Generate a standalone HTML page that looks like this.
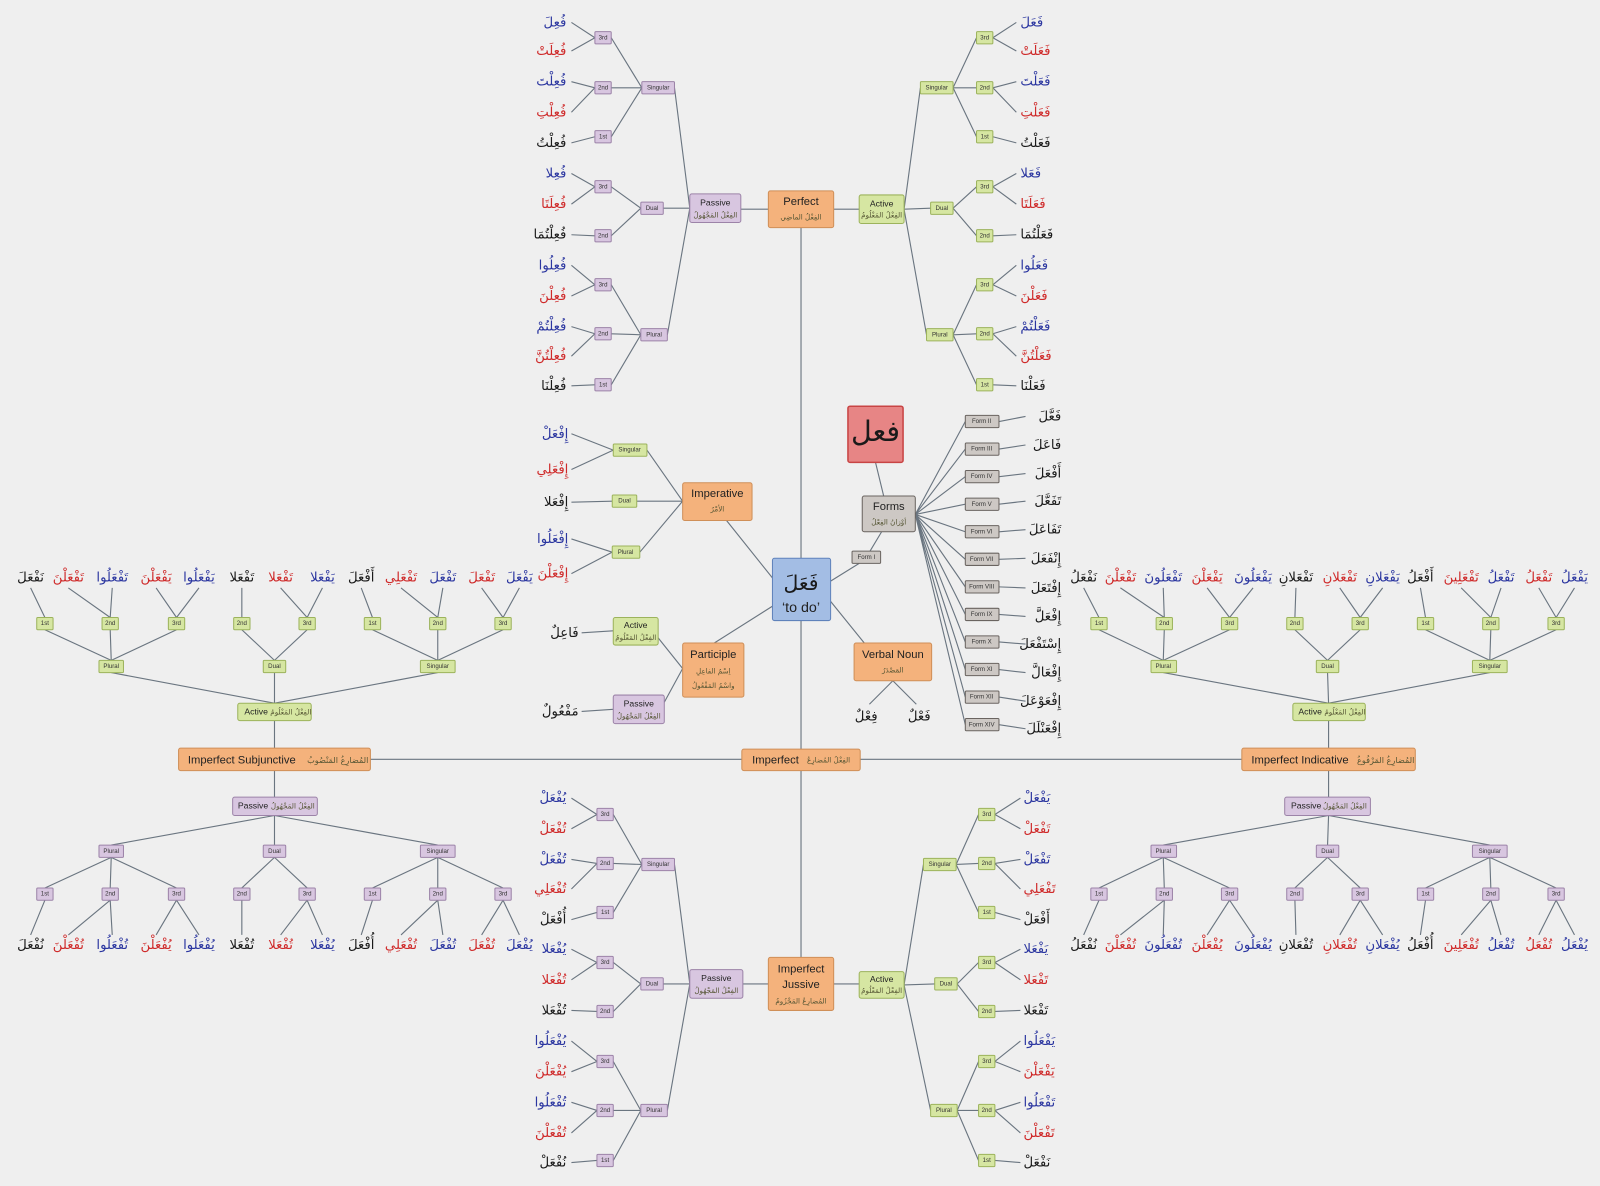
<!DOCTYPE html>
<html><head><meta charset="utf-8"><style>
html,body{margin:0;padding:0;background:#efefef;}
svg{display:block}
.l{stroke:#6a7580;stroke-width:1.1;fill:none}
.og{fill:#f4b27c;stroke:#cf8f58}
.gn{fill:#d6e6a2;stroke:#9cb35c}
.pu{fill:#d8c6e0;stroke:#9c83a8}
.gy{fill:#cdc8c4;stroke:#6a6460}
.st{font-family:"Liberation Sans",sans-serif;font-size:6px;text-anchor:middle;dominant-baseline:middle;fill:#333}
.bt{font-family:"Liberation Sans",sans-serif;font-size:11px;text-anchor:middle;dominant-baseline:middle;fill:#222}
.mt{font-family:"Liberation Sans",sans-serif;font-size:8.5px;text-anchor:middle;dominant-baseline:middle;fill:#222}
.ar{font-family:"DejaVu Sans",sans-serif;font-size:7px;text-anchor:middle;dominant-baseline:middle;fill:#553}
.a{font-family:"DejaVu Sans","Noto Sans CJK SC",sans-serif;font-size:13px;dominant-baseline:middle}
.e{text-anchor:end}.s{text-anchor:start}.m{text-anchor:middle}
.b{fill:#2b36a0}.r{fill:#cf2a2a}.k{fill:#1a1a1a}
</style></head><body>
<svg width="1600" height="1186" viewBox="0 0 1568 1162" preserveAspectRatio="none" xmlns="http://www.w3.org/2000/svg">
<rect width="1568" height="1162" fill="#efefef"/>
<!-- main lines -->
<g class="l">
<line x1="785" y1="223" x2="785" y2="938"/>
<line x1="363" y1="744" x2="727" y2="744"/><line x1="843" y1="744" x2="1217" y2="744"/>
<line x1="726" y1="205" x2="753" y2="205"/><line x1="817" y1="205" x2="842" y2="205"/>
<line x1="728" y1="964" x2="753" y2="964"/><line x1="817" y1="964" x2="842" y2="964"/>
<!-- top-left passive -->
<path d="M676 204L661 86M676 204L650 204M676 204L654 328M629 86L599 37M629 86L599 86M629 86L599 134M628 204L599 183M628 204L599 231M628 328L599 279M628 328L599 327M628 328L599 377"/>
<path d="M583 37L560 22M583 37L560 50M583 86L560 80M583 86L560 110M583 134L560 140M583 183L560 170M583 183L560 200M583 231L560 230M583 279L560 260M583 279L560 290M583 327L560 320M583 327L560 349M583 377L560 378"/>
<!-- top-right active -->
<path d="M886 205L902 86M886 205L912 204M886 205L908 328M934 86L957 37M934 86L957 86M934 86L957 134M934 204L957 183M934 204L957 231M934 328L957 279M934 328L957 327M934 328L957 377"/>
<path d="M973 37L996 22M973 37L996 50M973 86L996 80M973 86L996 110M973 134L996 140M973 183L996 170M973 183L996 200M973 231L996 230M973 279L996 260M973 279L996 290M973 327L996 320M973 327L996 349M973 377L996 378"/>
<!-- bottom-left passive -->
<path d="M676 964L661 847M676 964L650 964M676 964L654 1088M629 847L601 798M629 847L601 846M629 847L601 894M628 964L601 943M628 964L601 991M628 1088L601 1040M628 1088L601 1088M628 1088L601 1137"/>
<path d="M585 798L560 782M585 798L560 812M585 846L560 842M585 846L560 871M585 894L560 901M585 943L560 930M585 943L560 960M585 991L560 990M585 1040L560 1020M585 1040L560 1050M585 1088L560 1080M585 1088L560 1110M585 1137L560 1139"/>
<!-- bottom-right active -->
<path d="M886 965L905 847M886 965L916 964M886 965L912 1088M937 847L959 798M937 847L959 846M937 847L959 894M938 964L959 943M938 964L959 991M938 1088L959 1040M938 1088L959 1088M938 1088L959 1137"/>
<path d="M975 798L1000 782M975 798L1000 812M975 846L1000 842M975 846L1000 871M975 894L1000 901M975 943L1000 930M975 943L1000 960M975 991L1000 990M975 1040L1000 1020M975 1040L1000 1050M975 1088L1000 1080M975 1088L1000 1110M975 1137L1000 1139"/>
<!-- imperative / participle / center links -->
<path d="M669 491L634 441M669 491L624 491M669 491L627 541M601 441L560 425M601 441L560 460M600 491L560 492M600 541L560 528M600 541L560 562"/>
<path d="M712 510L760 570M700 630L760 592M669 655L645 625M669 655L651 688M601 618L570 620M601 695L570 697"/>
<path d="M847 630L813 588M875 667L852 690M875 667L898 690M813 570L842 552M852 541L864 521M858 453L866 486"/>
<path d="M897 504L946 413M897 504L946 440M897 504L946 467M897 504L946 494M897 504L946 521M897 504L946 548M897 504L946 575M897 504L946 602M897 504L946 629M897 504L946 656M897 504L946 683M897 504L946 710"/>
<path d="M979 413L1005 408M979 440L1005 436M979 467L1005 464M979 494L1005 491M979 521L1005 519M979 548L1005 547M979 575L1005 576M979 602L1005 604M979 629L1005 631M979 656L1005 659M979 683L1005 687M979 710L1005 714"/>
<!-- subjunctive -->
<path d="M269 733L269 706M269 755L269 781M269 689L109 659M269 689L269 659M269 689L429 659"/>
<path d="M109 647L44 617M109 647L108 617M109 647L173 617M269 647L237 617M269 647L301 617M429 647L365 617M429 647L429 617M429 647L493 617"/>
<path d="M44 605L30 576M108 605L67 576M108 605L110 576M173 605L153 576M173 605L195 576M237 605L237 576M301 605L275 576M301 605L316 576M365 605L354 576M429 605L393 576M429 605L434 576M493 605L472 576M493 605L509 576"/>
<path d="M269 799L109 828M269 799L269 828M269 799L429 828M109 840L44 870M109 840L108 870M109 840L173 870M269 840L237 870M269 840L301 870M429 840L365 870M429 840L429 870M429 840L493 870"/>
<path d="M44 882L30 916M108 882L67 916M108 882L110 916M173 882L153 916M173 882L195 916M237 882L237 916M301 882L275 916M301 882L316 916M365 882L354 916M429 882L393 916M429 882L434 916M493 882L472 916M493 882L509 916"/>
<!-- indicative -->
<path d="M1302 733L1302 706M1302 755L1302 781M1302 689L1140 659M1302 689L1301 659M1302 689L1460 659"/>
<path d="M1140 647L1077 617M1140 647L1141 617M1140 647L1205 617M1301 647L1269 617M1301 647L1333 617M1460 647L1397 617M1460 647L1461 617M1460 647L1525 617"/>
<path d="M1077 605L1062 576M1141 605L1098 576M1141 605L1140 576M1205 605L1183 576M1205 605L1228 576M1269 605L1270 576M1333 605L1313 576M1333 605L1355 576M1397 605L1392 576M1461 605L1432 576M1461 605L1471 576M1525 605L1508 576M1525 605L1543 576"/>
<path d="M1302 799L1140 828M1302 799L1301 828M1302 799L1460 828M1140 840L1077 870M1140 840L1141 870M1140 840L1205 870M1301 840L1269 870M1301 840L1333 870M1460 840L1397 870M1460 840L1461 870M1460 840L1525 870"/>
<path d="M1077 882L1062 916M1141 882L1098 916M1141 882L1140 916M1205 882L1183 916M1205 882L1228 916M1269 882L1270 916M1333 882L1313 916M1333 882L1355 916M1397 882L1392 916M1461 882L1432 916M1461 882L1471 916M1525 882L1508 916M1525 882L1543 916"/>
</g>

<!-- big boxes -->
<rect class="og" x="753" y="187" width="64" height="36" rx="2"/><text class="bt" x="785" y="198">Perfect</text><text class="ar" x="785" y="213">الفِعْلُ الماضِي</text>
<rect class="pu" x="676" y="190" width="50" height="28" rx="2"/><text class="mt" x="701" y="199">Passive</text><text class="ar" x="701" y="211">الفِعْلُ المَجْهُولُ</text>
<rect class="gn" x="842" y="191" width="44" height="28" rx="2"/><text class="mt" x="864" y="200">Active</text><text class="ar" x="864" y="211">الفِعْلُ المَعْلُومُ</text>

<rect class="og" x="753" y="938" width="64" height="52" rx="2"/><text class="bt" x="785" y="950">Imperfect</text><text class="bt" x="785" y="965">Jussive</text><text class="ar" x="785" y="981">المُضارِعُ المَجْزُومُ</text>
<rect class="pu" x="676" y="950" width="52" height="28" rx="2"/><text class="mt" x="702" y="959">Passive</text><text class="ar" x="702" y="971">الفِعْلُ المَجْهُولُ</text>
<rect class="gn" x="842" y="952" width="44" height="26" rx="2"/><text class="mt" x="864" y="960">Active</text><text class="ar" x="864" y="971">الفِعْلُ المَعْلُومُ</text>

<rect x="757" y="547" width="57" height="61" rx="2" fill="#a3bde4" stroke="#5f82bb"/><text class="a m k" x="785" y="572" style="font-size:20px">فَعَلَ</text><text class="bt" x="785" y="596" style="font-size:14px">‘to do’</text>
<rect x="831" y="398" width="54" height="55" rx="2" fill="#e78585" stroke="#c84444" stroke-width="1.5"/><text class="a m k" x="858" y="424" style="font-size:28px">فعل</text>
<rect class="gy" x="845" y="486" width="52" height="35" rx="2"/><text class="bt" x="871" y="497">Forms</text><text class="ar" x="871" y="512">أوْزانُ الفِعْلُ</text>
<rect class="gy" x="835" y="540" width="28" height="12" rx="1"/><text class="st" x="849" y="546">Form I</text>
<rect class="og" x="837" y="630" width="76" height="37" rx="2"/><text class="bt" x="875" y="642">Verbal Noun</text><text class="ar" x="875" y="657">المَصْدَرُ</text>
<rect class="og" x="669" y="473" width="68" height="37" rx="2"/><text class="bt" x="703" y="484">Imperative</text><text class="ar" x="703" y="499">الأمْرُ</text>
<rect class="og" x="669" y="630" width="60" height="53" rx="2"/><text class="bt" x="699" y="642">Participle</text><text class="ar" x="699" y="658">اِسْمُ الفاعِلِ</text><text class="ar" x="699" y="672">واسْمُ المَفْعُولُ</text>
<rect class="gn" x="601" y="605" width="44" height="27" rx="2"/><text class="mt" x="623" y="613">Active</text><text class="ar" x="623" y="625">الفِعْلُ المَعْلُومُ</text>
<rect class="pu" x="601" y="681" width="50" height="28" rx="2"/><text class="mt" x="626" y="690">Passive</text><text class="ar" x="626" y="702">الفِعْلُ المَجْهُولُ</text>
<rect class="gn" x="601" y="435" width="33" height="12" rx="1"/><text class="st" x="617" y="441">Singular</text>
<rect class="gn" x="600" y="485" width="24" height="12" rx="1"/><text class="st" x="612" y="491">Dual</text>
<rect class="gn" x="600" y="535" width="27" height="12" rx="1"/><text class="st" x="613" y="541">Plural</text>

<rect class="og" x="727" y="734" width="116" height="21" rx="2"/><text class="bt" x="760" y="745">Imperfect</text><text class="ar" x="812" y="745">الفِعْلُ المُضارِعُ</text>
<rect class="og" x="175" y="733" width="188" height="22" rx="2"/><text class="bt" x="237" y="745">Imperfect Subjunctive</text><text class="ar" x="331" y="745" style="font-size:8px">المُضارِعُ المَنْصُوبُ</text>
<rect class="og" x="1217" y="733" width="170" height="22" rx="2"/><text class="bt" x="1274" y="745">Imperfect Indicative</text><text class="ar" x="1358" y="745" style="font-size:8px">المُضارِعُ المَرْفُوعُ</text>
<rect class="gn" x="233" y="689" width="72" height="17" rx="2"/><text class="mt" x="251" y="698">Active</text><text class="ar" x="285" y="698">الفِعْلُ المَعْلُومُ</text>
<rect class="pu" x="228" y="781" width="83" height="18" rx="2"/><text class="mt" x="248" y="790">Passive</text><text class="ar" x="287" y="790">الفِعْلُ المَجْهُولُ</text>
<rect class="gn" x="1267" y="689" width="71" height="17" rx="2"/><text class="mt" x="1284" y="698">Active</text><text class="ar" x="1318" y="698">الفِعْلُ المَعْلُومُ</text>
<rect class="pu" x="1259" y="781" width="84" height="18" rx="2"/><text class="mt" x="1280" y="790">Passive</text><text class="ar" x="1318" y="790">الفِعْلُ المَجْهُولُ</text>

<!-- form boxes -->
<g>
<rect class="gy" x="946" y="407" width="33" height="12" rx="1"/><text class="st" x="962" y="413">Form II</text>
<rect class="gy" x="946" y="434" width="33" height="12" rx="1"/><text class="st" x="962" y="440">Form III</text>
<rect class="gy" x="946" y="461" width="33" height="12" rx="1"/><text class="st" x="962" y="467">Form IV</text>
<rect class="gy" x="946" y="488" width="33" height="12" rx="1"/><text class="st" x="962" y="494">Form V</text>
<rect class="gy" x="946" y="515" width="33" height="12" rx="1"/><text class="st" x="962" y="521">Form VI</text>
<rect class="gy" x="946" y="542" width="33" height="12" rx="1"/><text class="st" x="962" y="548">Form VII</text>
<rect class="gy" x="946" y="569" width="33" height="12" rx="1"/><text class="st" x="962" y="575">Form VIII</text>
<rect class="gy" x="946" y="596" width="33" height="12" rx="1"/><text class="st" x="962" y="602">Form IX</text>
<rect class="gy" x="946" y="623" width="33" height="12" rx="1"/><text class="st" x="962" y="629">Form X</text>
<rect class="gy" x="946" y="650" width="33" height="12" rx="1"/><text class="st" x="962" y="656">Form XI</text>
<rect class="gy" x="946" y="677" width="33" height="12" rx="1"/><text class="st" x="962" y="683">Form XII</text>
<rect class="gy" x="946" y="704" width="33" height="12" rx="1"/><text class="st" x="962" y="710">Form XIV</text>
</g>
<g class="a k e">
<text x="1040" y="408">فَعَّلَ</text><text x="1040" y="436">فَاعَلَ</text><text x="1040" y="464">أَفْعَلَ</text><text x="1040" y="491">تَفَعَّلَ</text><text x="1040" y="519">تَفَاعَلَ</text><text x="1040" y="547">إِنْفَعَلَ</text><text x="1040" y="576">إِفْتَعَلَ</text><text x="1040" y="604">إِفْعَلَّ</text><text x="1040" y="631">إِسْتَفْعَلَ</text><text x="1040" y="659">إِفْعَالَّ</text><text x="1040" y="687">إِفْعَوْعَلَ</text><text x="1040" y="714">إِفْعَنْلَلَ</text>
<text x="860" y="702">فِعْلٌ</text><text x="912" y="702">فَعْلٌ</text>
<text x="567" y="620">فَاعِلٌ</text><text x="567" y="697">مَفْعُولٌ</text>
</g>
<g class="a e">
<text class="b" x="557" y="425">إِفْعَلْ</text><text class="r" x="557" y="460">إِفْعَلِي</text><text class="k" x="557" y="492">إِفْعَلا</text><text class="b" x="557" y="528">إِفْعَلُوا</text><text class="r" x="557" y="562">إِفْعَلْنَ</text>
</g>

<!-- group & person boxes: top-left purple -->
<g>
<rect class="pu" x="629" y="80" width="32" height="12" rx="1"/><text class="st" x="645" y="86">Singular</text>
<rect class="pu" x="628" y="198" width="22" height="12" rx="1"/><text class="st" x="639" y="204">Dual</text>
<rect class="pu" x="628" y="322" width="26" height="12" rx="1"/><text class="st" x="641" y="328">Plural</text>
<rect class="pu" x="583" y="31" width="16" height="12" rx="1"/><text class="st" x="591" y="37">3rd</text>
<rect class="pu" x="583" y="80" width="16" height="12" rx="1"/><text class="st" x="591" y="86">2nd</text>
<rect class="pu" x="583" y="128" width="16" height="12" rx="1"/><text class="st" x="591" y="134">1st</text>
<rect class="pu" x="583" y="177" width="16" height="12" rx="1"/><text class="st" x="591" y="183">3rd</text>
<rect class="pu" x="583" y="225" width="16" height="12" rx="1"/><text class="st" x="591" y="231">2nd</text>
<rect class="pu" x="583" y="273" width="16" height="12" rx="1"/><text class="st" x="591" y="279">3rd</text>
<rect class="pu" x="583" y="321" width="16" height="12" rx="1"/><text class="st" x="591" y="327">2nd</text>
<rect class="pu" x="583" y="371" width="16" height="12" rx="1"/><text class="st" x="591" y="377">1st</text>
</g>
<!-- top-right green -->
<g>
<rect class="gn" x="902" y="80" width="32" height="12" rx="1"/><text class="st" x="918" y="86">Singular</text>
<rect class="gn" x="912" y="198" width="22" height="12" rx="1"/><text class="st" x="923" y="204">Dual</text>
<rect class="gn" x="908" y="322" width="26" height="12" rx="1"/><text class="st" x="921" y="328">Plural</text>
<rect class="gn" x="957" y="31" width="16" height="12" rx="1"/><text class="st" x="965" y="37">3rd</text>
<rect class="gn" x="957" y="80" width="16" height="12" rx="1"/><text class="st" x="965" y="86">2nd</text>
<rect class="gn" x="957" y="128" width="16" height="12" rx="1"/><text class="st" x="965" y="134">1st</text>
<rect class="gn" x="957" y="177" width="16" height="12" rx="1"/><text class="st" x="965" y="183">3rd</text>
<rect class="gn" x="957" y="225" width="16" height="12" rx="1"/><text class="st" x="965" y="231">2nd</text>
<rect class="gn" x="957" y="273" width="16" height="12" rx="1"/><text class="st" x="965" y="279">3rd</text>
<rect class="gn" x="957" y="321" width="16" height="12" rx="1"/><text class="st" x="965" y="327">2nd</text>
<rect class="gn" x="957" y="371" width="16" height="12" rx="1"/><text class="st" x="965" y="377">1st</text>
</g>
<!-- bottom-left purple -->
<g>
<rect class="pu" x="629" y="841" width="32" height="12" rx="1"/><text class="st" x="645" y="847">Singular</text>
<rect class="pu" x="628" y="958" width="22" height="12" rx="1"/><text class="st" x="639" y="964">Dual</text>
<rect class="pu" x="628" y="1082" width="26" height="12" rx="1"/><text class="st" x="641" y="1088">Plural</text>
<rect class="pu" x="585" y="792" width="16" height="12" rx="1"/><text class="st" x="593" y="798">3rd</text>
<rect class="pu" x="585" y="840" width="16" height="12" rx="1"/><text class="st" x="593" y="846">2nd</text>
<rect class="pu" x="585" y="888" width="16" height="12" rx="1"/><text class="st" x="593" y="894">1st</text>
<rect class="pu" x="585" y="937" width="16" height="12" rx="1"/><text class="st" x="593" y="943">3rd</text>
<rect class="pu" x="585" y="985" width="16" height="12" rx="1"/><text class="st" x="593" y="991">2nd</text>
<rect class="pu" x="585" y="1034" width="16" height="12" rx="1"/><text class="st" x="593" y="1040">3rd</text>
<rect class="pu" x="585" y="1082" width="16" height="12" rx="1"/><text class="st" x="593" y="1088">2nd</text>
<rect class="pu" x="585" y="1131" width="16" height="12" rx="1"/><text class="st" x="593" y="1137">1st</text>
</g>
<!-- bottom-right green -->
<g>
<rect class="gn" x="905" y="841" width="32" height="12" rx="1"/><text class="st" x="921" y="847">Singular</text>
<rect class="gn" x="916" y="958" width="22" height="12" rx="1"/><text class="st" x="927" y="964">Dual</text>
<rect class="gn" x="912" y="1082" width="26" height="12" rx="1"/><text class="st" x="925" y="1088">Plural</text>
<rect class="gn" x="959" y="792" width="16" height="12" rx="1"/><text class="st" x="967" y="798">3rd</text>
<rect class="gn" x="959" y="840" width="16" height="12" rx="1"/><text class="st" x="967" y="846">2nd</text>
<rect class="gn" x="959" y="888" width="16" height="12" rx="1"/><text class="st" x="967" y="894">1st</text>
<rect class="gn" x="959" y="937" width="16" height="12" rx="1"/><text class="st" x="967" y="943">3rd</text>
<rect class="gn" x="959" y="985" width="16" height="12" rx="1"/><text class="st" x="967" y="991">2nd</text>
<rect class="gn" x="959" y="1034" width="16" height="12" rx="1"/><text class="st" x="967" y="1040">3rd</text>
<rect class="gn" x="959" y="1082" width="16" height="12" rx="1"/><text class="st" x="967" y="1088">2nd</text>
<rect class="gn" x="959" y="1131" width="16" height="12" rx="1"/><text class="st" x="967" y="1137">1st</text>
</g>
<!-- subjunctive / indicative small boxes -->
<g>
<rect class="gn" x="97" y="647" width="24" height="12" rx="1"/><text class="st" x="109" y="653">Plural</text>
<rect class="gn" x="258" y="647" width="22" height="12" rx="1"/><text class="st" x="269" y="653">Dual</text>
<rect class="gn" x="412" y="647" width="34" height="12" rx="1"/><text class="st" x="429" y="653">Singular</text>
<rect class="gn" x="36" y="605" width="16" height="12" rx="1"/><text class="st" x="44" y="611">1st</text>
<rect class="gn" x="100" y="605" width="16" height="12" rx="1"/><text class="st" x="108" y="611">2nd</text>
<rect class="gn" x="165" y="605" width="16" height="12" rx="1"/><text class="st" x="173" y="611">3rd</text>
<rect class="gn" x="229" y="605" width="16" height="12" rx="1"/><text class="st" x="237" y="611">2nd</text>
<rect class="gn" x="293" y="605" width="16" height="12" rx="1"/><text class="st" x="301" y="611">3rd</text>
<rect class="gn" x="357" y="605" width="16" height="12" rx="1"/><text class="st" x="365" y="611">1st</text>
<rect class="gn" x="421" y="605" width="16" height="12" rx="1"/><text class="st" x="429" y="611">2nd</text>
<rect class="gn" x="485" y="605" width="16" height="12" rx="1"/><text class="st" x="493" y="611">3rd</text>

<rect class="pu" x="97" y="828" width="24" height="12" rx="1"/><text class="st" x="109" y="834">Plural</text>
<rect class="pu" x="258" y="828" width="22" height="12" rx="1"/><text class="st" x="269" y="834">Dual</text>
<rect class="pu" x="412" y="828" width="34" height="12" rx="1"/><text class="st" x="429" y="834">Singular</text>
<rect class="pu" x="36" y="870" width="16" height="12" rx="1"/><text class="st" x="44" y="876">1st</text>
<rect class="pu" x="100" y="870" width="16" height="12" rx="1"/><text class="st" x="108" y="876">2nd</text>
<rect class="pu" x="165" y="870" width="16" height="12" rx="1"/><text class="st" x="173" y="876">3rd</text>
<rect class="pu" x="229" y="870" width="16" height="12" rx="1"/><text class="st" x="237" y="876">2nd</text>
<rect class="pu" x="293" y="870" width="16" height="12" rx="1"/><text class="st" x="301" y="876">3rd</text>
<rect class="pu" x="357" y="870" width="16" height="12" rx="1"/><text class="st" x="365" y="876">1st</text>
<rect class="pu" x="421" y="870" width="16" height="12" rx="1"/><text class="st" x="429" y="876">2nd</text>
<rect class="pu" x="485" y="870" width="16" height="12" rx="1"/><text class="st" x="493" y="876">3rd</text>

<rect class="gn" x="1128" y="647" width="25" height="12" rx="1"/><text class="st" x="1140" y="653">Plural</text>
<rect class="gn" x="1290" y="647" width="22" height="12" rx="1"/><text class="st" x="1301" y="653">Dual</text>
<rect class="gn" x="1443" y="647" width="34" height="12" rx="1"/><text class="st" x="1460" y="653">Singular</text>
<rect class="gn" x="1069" y="605" width="16" height="12" rx="1"/><text class="st" x="1077" y="611">1st</text>
<rect class="gn" x="1133" y="605" width="16" height="12" rx="1"/><text class="st" x="1141" y="611">2nd</text>
<rect class="gn" x="1197" y="605" width="16" height="12" rx="1"/><text class="st" x="1205" y="611">3rd</text>
<rect class="gn" x="1261" y="605" width="16" height="12" rx="1"/><text class="st" x="1269" y="611">2nd</text>
<rect class="gn" x="1325" y="605" width="16" height="12" rx="1"/><text class="st" x="1333" y="611">3rd</text>
<rect class="gn" x="1389" y="605" width="16" height="12" rx="1"/><text class="st" x="1397" y="611">1st</text>
<rect class="gn" x="1453" y="605" width="16" height="12" rx="1"/><text class="st" x="1461" y="611">2nd</text>
<rect class="gn" x="1517" y="605" width="16" height="12" rx="1"/><text class="st" x="1525" y="611">3rd</text>

<rect class="pu" x="1128" y="828" width="25" height="12" rx="1"/><text class="st" x="1140" y="834">Plural</text>
<rect class="pu" x="1290" y="828" width="22" height="12" rx="1"/><text class="st" x="1301" y="834">Dual</text>
<rect class="pu" x="1443" y="828" width="34" height="12" rx="1"/><text class="st" x="1460" y="834">Singular</text>
<rect class="pu" x="1069" y="870" width="16" height="12" rx="1"/><text class="st" x="1077" y="876">1st</text>
<rect class="pu" x="1133" y="870" width="16" height="12" rx="1"/><text class="st" x="1141" y="876">2nd</text>
<rect class="pu" x="1197" y="870" width="16" height="12" rx="1"/><text class="st" x="1205" y="876">3rd</text>
<rect class="pu" x="1261" y="870" width="16" height="12" rx="1"/><text class="st" x="1269" y="876">2nd</text>
<rect class="pu" x="1325" y="870" width="16" height="12" rx="1"/><text class="st" x="1333" y="876">3rd</text>
<rect class="pu" x="1389" y="870" width="16" height="12" rx="1"/><text class="st" x="1397" y="876">1st</text>
<rect class="pu" x="1453" y="870" width="16" height="12" rx="1"/><text class="st" x="1461" y="876">2nd</text>
<rect class="pu" x="1517" y="870" width="16" height="12" rx="1"/><text class="st" x="1525" y="876">3rd</text>
</g>

<!-- words top-left -->
<g class="a e">
<text class="b" x="555" y="22">فُعِلَ</text><text class="r" x="555" y="50">فُعِلَتْ</text><text class="b" x="555" y="80">فُعِلْتَ</text><text class="r" x="555" y="110">فُعِلْتِ</text><text class="k" x="555" y="140">فُعِلْتُ</text>
<text class="b" x="555" y="170">فُعِلا</text><text class="r" x="555" y="200">فُعِلَتَا</text><text class="k" x="555" y="230">فُعِلْتُمَا</text>
<text class="b" x="555" y="260">فُعِلُوا</text><text class="r" x="555" y="290">فُعِلْنَ</text><text class="b" x="555" y="320">فُعِلْتُمْ</text><text class="r" x="555" y="349">فُعِلْتُنَّ</text><text class="k" x="555" y="378">فُعِلْنَا</text>
</g>
<g class="a s">
<text class="b" x="1000" y="22">فَعَلَ</text><text class="r" x="1000" y="50">فَعَلَتْ</text><text class="b" x="1000" y="80">فَعَلْتَ</text><text class="r" x="1000" y="110">فَعَلْتِ</text><text class="k" x="1000" y="140">فَعَلْتُ</text>
<text class="b" x="1000" y="170">فَعَلا</text><text class="r" x="1000" y="200">فَعَلَتَا</text><text class="k" x="1000" y="230">فَعَلْتُمَا</text>
<text class="b" x="1000" y="260">فَعَلُوا</text><text class="r" x="1000" y="290">فَعَلْنَ</text><text class="b" x="1000" y="320">فَعَلْتُمْ</text><text class="r" x="1000" y="349">فَعَلْتُنَّ</text><text class="k" x="1000" y="378">فَعَلْنَا</text>
</g>
<g class="a e">
<text class="b" x="555" y="782">يُفْعَلْ</text><text class="r" x="555" y="812">تُفْعَلْ</text><text class="b" x="555" y="842">تُفْعَلْ</text><text class="r" x="555" y="871">تُفْعَلِي</text><text class="k" x="555" y="901">أُفْعَلْ</text>
<text class="b" x="555" y="930">يُفْعَلا</text><text class="r" x="555" y="960">تُفْعَلا</text><text class="k" x="555" y="990">تُفْعَلا</text>
<text class="b" x="555" y="1020">يُفْعَلُوا</text><text class="r" x="555" y="1050">يُفْعَلْنَ</text><text class="b" x="555" y="1080">تُفْعَلُوا</text><text class="r" x="555" y="1110">تُفْعَلْنَ</text><text class="k" x="555" y="1139">نُفْعَلْ</text>
</g>
<g class="a s">
<text class="b" x="1003" y="782">يَفْعَلْ</text><text class="r" x="1003" y="812">تَفْعَلْ</text><text class="b" x="1003" y="842">تَفْعَلْ</text><text class="r" x="1003" y="871">تَفْعَلِي</text><text class="k" x="1003" y="901">أَفْعَلْ</text>
<text class="b" x="1003" y="930">يَفْعَلا</text><text class="r" x="1003" y="960">تَفْعَلا</text><text class="k" x="1003" y="990">تَفْعَلا</text>
<text class="b" x="1003" y="1020">يَفْعَلُوا</text><text class="r" x="1003" y="1050">يَفْعَلْنَ</text><text class="b" x="1003" y="1080">تَفْعَلُوا</text><text class="r" x="1003" y="1110">تَفْعَلْنَ</text><text class="k" x="1003" y="1139">نَفْعَلْ</text>
</g>
<!-- subjunctive words -->
<g class="a m">
<text class="k" x="30" y="566">نَفْعَلَ</text><text class="r" x="67" y="566">تَفْعَلْنَ</text><text class="b" x="110" y="566">تَفْعَلُوا</text><text class="r" x="153" y="566">يَفْعَلْنَ</text><text class="b" x="195" y="566">يَفْعَلُوا</text><text class="k" x="237" y="566">تَفْعَلا</text><text class="r" x="275" y="566">تَفْعَلا</text><text class="b" x="316" y="566">يَفْعَلا</text><text class="k" x="354" y="566">أَفْعَلَ</text><text class="r" x="393" y="566">تَفْعَلِي</text><text class="b" x="434" y="566">تَفْعَلَ</text><text class="r" x="472" y="566">تَفْعَلَ</text><text class="b" x="509" y="566">يَفْعَلَ</text>
<text class="k" x="30" y="926">نُفْعَلَ</text><text class="r" x="67" y="926">تُفْعَلْنَ</text><text class="b" x="110" y="926">تُفْعَلُوا</text><text class="r" x="153" y="926">يُفْعَلْنَ</text><text class="b" x="195" y="926">يُفْعَلُوا</text><text class="k" x="237" y="926">تُفْعَلا</text><text class="r" x="275" y="926">تُفْعَلا</text><text class="b" x="316" y="926">يُفْعَلا</text><text class="k" x="354" y="926">أُفْعَلَ</text><text class="r" x="393" y="926">تُفْعَلِي</text><text class="b" x="434" y="926">تُفْعَلَ</text><text class="r" x="472" y="926">تُفْعَلَ</text><text class="b" x="509" y="926">يُفْعَلَ</text>
<text class="k" x="1062" y="566">نَفْعَلُ</text><text class="r" x="1098" y="566">تَفْعَلْنَ</text><text class="b" x="1140" y="566">تَفْعَلُونَ</text><text class="r" x="1183" y="566">يَفْعَلْنَ</text><text class="b" x="1228" y="566">يَفْعَلُونَ</text><text class="k" x="1270" y="566">تَفْعَلانِ</text><text class="r" x="1313" y="566">تَفْعَلانِ</text><text class="b" x="1355" y="566">يَفْعَلانِ</text><text class="k" x="1392" y="566">أَفْعَلُ</text><text class="r" x="1432" y="566">تَفْعَلِينَ</text><text class="b" x="1471" y="566">تَفْعَلُ</text><text class="r" x="1508" y="566">تَفْعَلُ</text><text class="b" x="1543" y="566">يَفْعَلُ</text>
<text class="k" x="1062" y="926">نُفْعَلُ</text><text class="r" x="1098" y="926">تُفْعَلْنَ</text><text class="b" x="1140" y="926">تُفْعَلُونَ</text><text class="r" x="1183" y="926">يُفْعَلْنَ</text><text class="b" x="1228" y="926">يُفْعَلُونَ</text><text class="k" x="1270" y="926">تُفْعَلانِ</text><text class="r" x="1313" y="926">تُفْعَلانِ</text><text class="b" x="1355" y="926">يُفْعَلانِ</text><text class="k" x="1392" y="926">أُفْعَلُ</text><text class="r" x="1432" y="926">تُفْعَلِينَ</text><text class="b" x="1471" y="926">تُفْعَلُ</text><text class="r" x="1508" y="926">تُفْعَلُ</text><text class="b" x="1543" y="926">يُفْعَلُ</text>
</g>
</svg>
</body></html>
